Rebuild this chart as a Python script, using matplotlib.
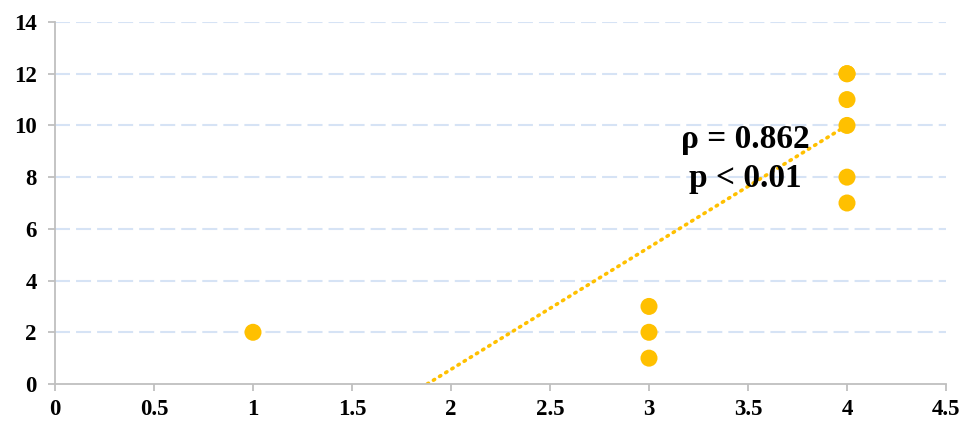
import numpy as np
import matplotlib.pyplot as plt

plt.rcParams['font.family'] = ['Liberation Serif', 'DejaVu Serif']
plt.rcParams['font.weight'] = 'bold'

# observations
x_vals = [1, 3, 3, 3, 4, 4, 4, 4, 4, 4]
y_vals = [2, 1, 2, 3, 7, 8, 10, 11, 12, 12]

# fitted trend line (slope, intercept)
trend_slope = 4.717
trend_intercept = -8.868

rho_label = 'ρ = 0.862'
p_label = 'p < 0.01'

x_ticks = [0, 0.5, 1, 1.5, 2, 2.5, 3, 3.5, 4, 4.5]
x_tick_labels = ['0', '0.5', '1', '1.5', '2', '2.5', '3', '3.5', '4', '4.5']
y_ticks = [0, 2, 4, 6, 8, 10, 12, 14]

gold = '#FFC000'
axis_grey = '#BFBFBF'

fig = plt.figure(figsize=(9.64, 4.26), dpi=100)
ax = fig.add_axes([55 / 964, 1 - 384 / 426, (946 - 55) / 964, (384 - 22) / 426])

for yv in y_ticks[1:]:
    ax.axhline(yv, color='#D6E3F5', lw=1.5, dashes=(7.2, 2.9), zorder=0)

x0 = -trend_intercept / trend_slope
xs = np.array([x0, max(x_vals)])
ax.plot(xs, trend_slope * xs + trend_intercept, color=gold, lw=2.6,
        linestyle=(0, (0.4, 1.6)), dash_capstyle='round', zorder=2)

ax.scatter(x_vals, y_vals, s=150, color=gold, edgecolors='none', zorder=3)

ax.text(3.485, 9.45, rho_label, ha='center', va='center', fontsize=24,
        fontweight='bold', zorder=4)
ax.text(3.485, 7.95, p_label, ha='center', va='center', fontsize=24,
        fontweight='bold', zorder=4)

ax.set_xlim(0, 4.5)
ax.set_ylim(0, 14)
ax.set_xticks(x_ticks)
ax.set_xticklabels(x_tick_labels)
ax.set_yticks(y_ticks)

for side in ['top', 'right']:
    ax.spines[side].set_visible(False)
for side in ['left', 'bottom']:
    ax.spines[side].set_color(axis_grey)
    ax.spines[side].set_linewidth(1.3)
ax.tick_params(axis='both', colors=axis_grey, labelcolor='black', length=5,
               width=1.3, labelsize=16.5)
ax.tick_params(axis='x', pad=6)
ax.tick_params(axis='y', pad=8)
for lbl in ax.get_xticklabels() + ax.get_yticklabels():
    lbl.set_fontweight('bold')

fig.savefig('out.png', dpi=100)
